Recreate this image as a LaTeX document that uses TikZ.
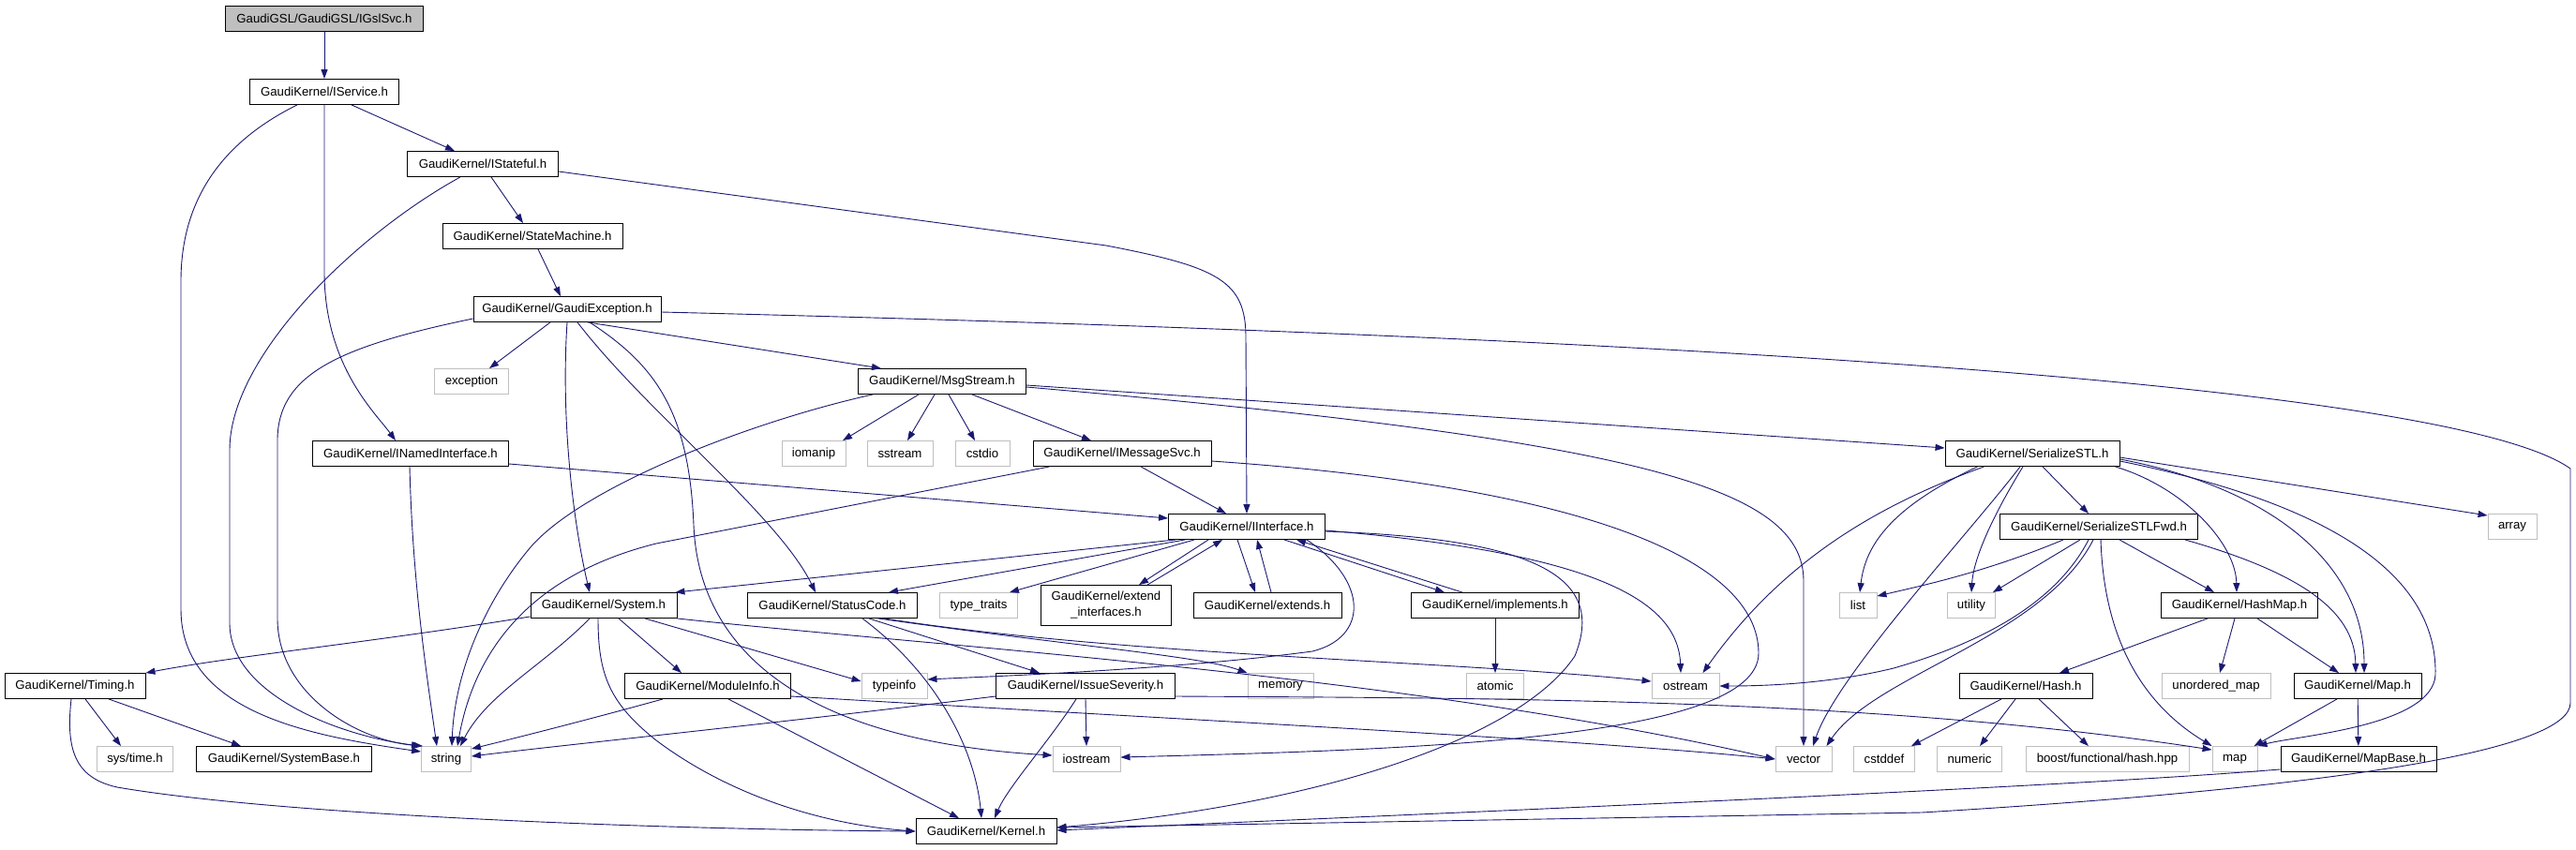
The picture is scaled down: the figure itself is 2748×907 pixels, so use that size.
\documentclass[tikz,border=0pt]{standalone}
\usepackage{fontspec}
\setmainfont{Liberation Sans}
\usepackage{xcolor}
\usetikzlibrary{arrows.meta,calc}
\definecolor{edgeblue}{HTML}{191970}
\definecolor{sysgray}{HTML}{BFBFBF}

\begin{document}
\begin{tikzpicture}[x=1pt,y=-1pt,
  hdr/.style={rectangle, draw=black, line width=0.9pt, minimum width=#1, minimum height=27pt,
    inner xsep=3pt, inner ysep=2pt, font=\fontsize{13.2}{15}\selectfont, fill=white},
  sys/.style={hdr=#1, draw=sysgray},
  dep/.style={draw=edgeblue, line width=0.9pt, -{Triangle[length=10pt,width=7pt]}}]
  \useasboundingbox (0,0) rectangle (2748,907);

  % headers of the graph
  \node[hdr=211, fill=sysgray] (gsl) at (346,20) {GaudiGSL/GaudiGSL/IGslSvc.h};
  \node[hdr=159] (isvc) at (346,98) {GaudiKernel/IService.h};
  \node[hdr=161] (istate) at (515,175) {GaudiKernel/IStateful.h};
  \node[hdr=192] (smach) at (568,252) {GaudiKernel/StateMachine.h};
  \node[hdr=200] (gexc) at (605,330) {GaudiKernel/GaudiException.h};
  \node[sys=79] (exc) at (503,407) {exception};
  \node[hdr=179] (msg) at (1005,407) {GaudiKernel/MsgStream.h};
  \node[hdr=209] (inamed) at (438,484) {GaudiKernel/INamedInterface.h};
  \node[sys=68] (iomanip) at (868,484) {iomanip};
  \node[sys=70] (sstream) at (960,484) {sstream};
  \node[sys=58] (cstdio) at (1048,484) {cstdio};
  \node[hdr=190] (imsg) at (1197,484) {GaudiKernel/IMessageSvc.h};
  \node[hdr=186] (ser) at (2168,484) {GaudiKernel/SerializeSTL.h};
  \node[hdr=167] (iint) at (1330,562) {GaudiKernel/IInterface.h};
  \node[hdr=211] (serfwd) at (2239,562) {GaudiKernel/SerializeSTLFwd.h};
  \node[sys=52] (array) at (2680,562) {array};
  \node[hdr=156] (system) at (644,646) {GaudiKernel/System.h};
  \node[hdr=181] (status) at (888,646) {GaudiKernel/StatusCode.h};
  \node[sys=83] (ttraits) at (1044,646) {type\_traits};
  \node[hdr=139, minimum height=43pt, align=center, font=\fontsize{13.2}{17}\selectfont] (extif) at (1180,646) {GaudiKernel/extend\\\_interfaces.h};
  \node[hdr=158] (extends) at (1352,646) {GaudiKernel/extends.h};
  \node[hdr=179] (impl) at (1595,646) {GaudiKernel/implements.h};
  \node[sys=40] (list) at (1982,646) {list};
  \node[sys=51] (utility) at (2103,646) {utility};
  \node[hdr=167] (hashmap) at (2389,646) {GaudiKernel/HashMap.h};
  \node[hdr=150] (timing) at (80,732) {GaudiKernel/Timing.h};
  \node[hdr=177] (modinfo) at (755,732) {GaudiKernel/ModuleInfo.h};
  \node[sys=70] (typeinfo) at (954,732) {typeinfo};
  \node[hdr=191] (issue) at (1158,732) {GaudiKernel/IssueSeverity.h};
  \node[sys=70] (memory) at (1366,732) {memory};
  \node[sys=61] (atomic) at (1595,732) {atomic};
  \node[sys=72] (ostream) at (1798,732) {ostream};
  \node[hdr=142] (hash) at (2161,732) {GaudiKernel/Hash.h};
  \node[sys=116] (umap) at (2364,732) {unordered\_map};
  \node[hdr=136] (maph) at (2515,732) {GaudiKernel/Map.h};
  \node[sys=81] (systime) at (144,810) {sys/time.h};
  \node[hdr=187] (sysbase) at (303,810) {GaudiKernel/SystemBase.h};
  \node[sys=53] (string) at (476,810) {string};
  \node[sys=72] (iostream) at (1159,810) {iostream};
  \node[sys=60] (vector) at (1924,810) {vector};
  \node[sys=65] (cstddef) at (2010,810) {cstddef};
  \node[sys=69] (numeric) at (2101,810) {numeric};
  \node[sys=174] (boost) at (2248,810) {boost/functional/hash.hpp};
  \node[sys=48] (stdmap) at (2384,810) {map};
  \node[hdr=166] (mapbase) at (2516,810) {GaudiKernel/MapBase.h};
  \node[hdr=150] (kernel) at (1052,887) {GaudiKernel/Kernel.h};

  % IGslSvc, IService, IStateful
  \draw[dep] (gsl) -- (isvc);
  \draw[dep] ($(isvc.south)+(29,0)$) -- ($(istate.north)+(-30,0)$);
  \draw[dep] (isvc.south) -- (346,290) .. controls (346,390) and (400,440) .. ($(inamed.north)+(-16,0)$);
  \draw[dep] ($(isvc.south)+(-29,0)$) .. controls (240,150) and (193,210) .. (193,300) -- (193,650) .. controls (193,760) and (330,785) .. ($(string.north west)+(0,6)$);
  \draw[dep] ($(istate.south)+(9,0)$) -- ($(smach.north)+(-10,0)$);
  \draw[dep] ($(istate.south)+(-24,0)$) .. controls (380,250) and (245,380) .. (245,480) -- (245,665) .. controls (245,740) and (360,785) .. (string.north west);
  \draw[dep] ($(istate.east)+(0,8)$) -- (1180,262) .. controls (1300,285) and (1329,300) .. (1329,360) -- (iint.north);
  \draw[dep] ($(smach.south)+(6,0)$) -- ($(gexc.north)+(-7,0)$);

  % GaudiException
  \draw[dep] ($(gexc.south)+(-18,0)$) -- ($(exc.north)+(19,0)$);
  \draw[dep] ($(gexc.south)+(22,0)$) -- ($(msg.north)+(-65,0)$);
  \draw[dep] (gexc.south) .. controls (598,450) and (612,560) .. ($(system.north)+(-15,0)$);
  \draw[dep] ($(gexc.south)+(11,0)$) .. controls (690,440) and (830,550) .. ($(status.north)+(-18,0)$);
  \draw[dep] ($(gexc.south)+(24,0)$) .. controls (700,390) and (735,440) .. (740,560) .. controls (745,690) and (850,790) .. ($(iostream.west)+(0,-4)$);
  \draw[dep] ($(gexc.west)+(0,10)$) .. controls (360,370) and (296,400) .. (296,470) -- (296,660) .. controls (296,740) and (380,790) .. ($(string.north west)+(2,0)$);
  \draw[dep] ($(gexc.east)+(0,3)$) .. controls (1600,355) and (2600,400) .. (2742,500) -- (2742,750) .. controls (2742,800) and (2500,840) .. (2050,867) -- ($(kernel.east)+(0,-4)$);

  % MsgStream and IMessageSvc
  \draw[dep] ($(msg.south)+(-25,0)$) -- ($(iomanip.north)+(31,0)$);
  \draw[dep] ($(msg.south)+(-8,0)$) -- ($(sstream.north)+(8,0)$);
  \draw[dep] ($(msg.south)+(7,0)$) -- ($(cstdio.north)+(-8,0)$);
  \draw[dep] ($(msg.south)+(32,0)$) -- ($(imsg.north)+(-33,0)$);
  \draw[dep] ($(msg.east)+(0,4)$) -- ($(ser.west)+(0,-6)$);
  \draw[dep] ($(msg.east)+(0,6)$) .. controls (1750,470) and (1924,520) .. (1924,620) -- (vector.north);
  \draw[dep] ($(msg.south west)+(16,0)$) .. controls (800,450) and (620,520) .. (565,585) .. controls (515,645) and (485,720) .. ($(string.north)+(6,0)$);
  \draw[dep] ($(imsg.south)+(20,0)$) -- ($(iint.north)+(-22,0)$);
  \draw[dep] ($(imsg.south west)+(18,0)$) -- (700,580) .. controls (560,615) and (505,700) .. ($(string.north)+(12,0)$);
  \draw[dep] ($(imsg.east)+(0,8)$) .. controls (1700,520) and (1876,600) .. (1876,697) .. controls (1876,790) and (1500,800) .. ($(iostream.east)+(0,-2)$);

  % INamedInterface
  \draw[dep] ($(inamed.east)+(0,11)$) -- ($(iint.west)+(0,-9)$);
  \draw[dep] ($(inamed.south)+(-1,0)$) .. controls (440,620) and (455,720) .. ($(string.north)+(-10,0)$);

  % IInterface
  \draw[dep] ($(iint.south west)+(8,0)$) -- ($(system.north east)+(-2,0)$);
  \draw[dep] ($(iint.south west)+(18,0)$) -- ($(status.north east)+(-31,0)$);
  \draw[dep] ($(iint.south west)+(28,0)$) -- ($(ttraits.north east)+(-9,0)$);
  \draw[dep] ($(iint.south west)+(43,0)$) -- ($(extif.north)+(35,0)$);
  \draw[dep] ($(extif.north)+(44,0)$) -- ($(iint.south west)+(58,0)$);
  \draw[dep] ($(iint.south)+(-10,0)$) -- ($(extends.north)+(-13,0)$);
  \draw[dep] ($(extends.north)+(4,0)$) -- ($(iint.south)+(11,0)$);
  \draw[dep] ($(iint.south)+(40,0)$) -- ($(impl.north)+(-54,0)$);
  \draw[dep] ($(impl.north)+(-35,0)$) -- ($(iint.south)+(53,0)$);
  \draw[dep] ($(iint.south east)+(-20,0)$) .. controls (1460,620) and (1460,680) .. (1400,695) .. controls (1250,715) and (1050,722) .. ($(typeinfo.east)+(0,-7)$);
  \draw[dep] ($(iint.east)+(0,4)$) .. controls (1700,590) and (1790,640) .. ($(ostream.north)+(-5,0)$);
  \draw[dep] ($(iint.east)+(0,5)$) .. controls (1650,575) and (1712,620) .. (1680,700) .. controls (1620,790) and (1400,860) .. ($(kernel.east)+(0,-4)$);

  % System and StatusCode
  \draw[dep] ($(system.south west)+(0,-2)$) .. controls (400,685) and (250,700) .. (timing.north east);
  \draw[dep] ($(system.south)+(-15,0)$) .. controls (580,710) and (520,740) .. ($(string.north)+(15,0)$);
  \draw[dep] ($(system.south)+(-6,0)$) .. controls (638,720) and (650,750) .. (700,790) .. controls (780,850) and (880,880) .. (kernel.west);
  \draw[dep] ($(system.south)+(16,0)$) -- ($(modinfo.north)+(-28,0)$);
  \draw[dep] ($(system.south)+(44,0)$) -- ($(typeinfo.west)+(0,-5)$);
  \draw[dep] (system.south east) .. controls (1000,690) and (1500,720) .. (vector.west);
  \draw[dep] ($(status.south)+(39,0)$) -- ($(issue.north)+(-49,0)$);
  \draw[dep] ($(status.south)+(49,0)$) .. controls (1150,690) and (1280,700) .. (memory.north west);
  \draw[dep] ($(status.south)+(32,0)$) .. controls (1000,720) and (1040,800) .. ($(kernel.north)+(-5,0)$);
  \draw[dep] ($(status.south)+(55,0)$) .. controls (1200,700) and (1550,705) .. ($(ostream.west)+(0,-5)$);

  % ModuleInfo, IssueSeverity, Timing
  \draw[dep] ($(modinfo.south west)+(41,0)$) .. controls (620,770) and (540,790) .. ($(string.north east)+(0,3)$);
  \draw[dep] ($(modinfo.south)+(22,0)$) -- ($(kernel.north)+(-29,0)$);
  \draw[dep] ($(modinfo.east)+(0,11)$) .. controls (1300,770) and (1700,790) .. (vector.west);
  \draw[dep] ($(issue.west)+(0,11)$) .. controls (800,775) and (600,795) .. ($(string.east)+(0,-3)$);
  \draw[dep] ($(issue.south)+(-10,0)$) .. controls (1120,790) and (1075,840) .. ($(kernel.north)+(9,0)$);
  \draw[dep] (issue.south) -- (iostream.north);
  \draw[dep] ($(issue.east)+(0,11)$) .. controls (1600,745) and (2000,745) .. ($(stdmap.north west)+(0,4)$);
  \draw[dep] ($(timing.south)+(11,0)$) -- ($(systime.north)+(-15,0)$);
  \draw[dep] ($(timing.south)+(36,0)$) -- ($(sysbase.north)+(-46,0)$);
  \draw[dep] ($(timing.south)+(-4,0)$) .. controls (70,800) and (80,830) .. (125,840) .. controls (300,870) and (700,885) .. (kernel.west);
  \draw[dep] (impl) -- (atomic);

  % SerializeSTL and SerializeSTLFwd
  \draw[dep] ($(ser.south)+(11,0)$) -- ($(serfwd.north)+(-11,0)$);
  \draw[dep] ($(ser.east)+(0,4)$) -- ($(array.north west)+(0,2)$);
  \draw[dep] ($(ser.south west)+(42,0)$) .. controls (2000,540) and (1900,600) .. ($(ostream.north east)+(-18,0)$);
  \draw[dep] ($(ser.south west)+(35,0)$) .. controls (2020,540) and (1990,580) .. ($(list.north)+(2,0)$);
  \draw[dep] ($(ser.south)+(-13,0)$) .. controls (2100,570) and (1960,720) .. ($(vector.north)+(10,0)$);
  \draw[dep] ($(ser.south)+(-10,0)$) .. controls (2120,560) and (2105,600) .. (utility.north);
  \draw[dep] ($(ser.south east)+(-5,0)$) .. controls (2330,520) and (2385,580) .. ($(hashmap.north)+(-3,0)$);
  \draw[dep] ($(ser.east)+(0,6)$) .. controls (2420,520) and (2522,600) .. ($(maph.north)+(7,0)$);
  \draw[dep] ($(ser.east)+(0,8)$) .. controls (2500,540) and (2600,620) .. (2598,720) .. controls (2595,775) and (2450,785) .. (stdmap.north east);
  \draw[dep] ($(serfwd.south)+(-38,0)$) .. controls (2120,610) and (2050,625) .. ($(list.north east)+(0,4)$);
  \draw[dep] ($(serfwd.south)+(-20,0)$) -- ($(utility.north east)+(-3,0)$);
  \draw[dep] ($(serfwd.south)+(22,0)$) -- ($(hashmap.north)+(-27,0)$);
  \draw[dep] ($(serfwd.south east)+(-14,0)$) .. controls (2450,610) and (2512,650) .. ($(maph.north)+(-2,0)$);
  \draw[dep] ($(serfwd.south)+(2,0)$) .. controls (2245,700) and (2300,760) .. (stdmap.north west);
  \draw[dep] ($(serfwd.south)+(-11,0)$) .. controls (2190,650) and (2100,690) .. (2020,713) .. controls (1950,730) and (1880,732) .. (ostream.east);
  \draw[dep] ($(serfwd.south)+(-6,0)$) .. controls (2180,680) and (2000,720) .. ($(vector.north east)+(-6,0)$);

  % HashMap, Hash, Map, MapBase
  \draw[dep] ($(hashmap.south)+(-34,0)$) -- ($(hash.north)+(36,0)$);
  \draw[dep] ($(hashmap.south)+(-5,0)$) -- ($(umap.north)+(4,0)$);
  \draw[dep] ($(hashmap.south)+(19,0)$) -- ($(maph.north)+(-20,0)$);
  \draw[dep] ($(hash.south)+(-26,0)$) -- ($(cstddef.north east)+(-4,0)$);
  \draw[dep] ($(hash.south)+(-11,0)$) -- ($(numeric.north)+(11,0)$);
  \draw[dep] ($(hash.south)+(14,0)$) -- ($(boost.north)+(-20,0)$);
  \draw[dep] ($(maph.south)+(-22,0)$) -- ($(stdmap.north east)+(-4,0)$);
  \draw[dep] (maph) -- (mapbase);
  \draw[dep] ($(mapbase.south west)+(0,-3)$) .. controls (2200,840) and (1600,865) .. ($(kernel.east)+(0,-1)$);
\end{tikzpicture}
\end{document}
